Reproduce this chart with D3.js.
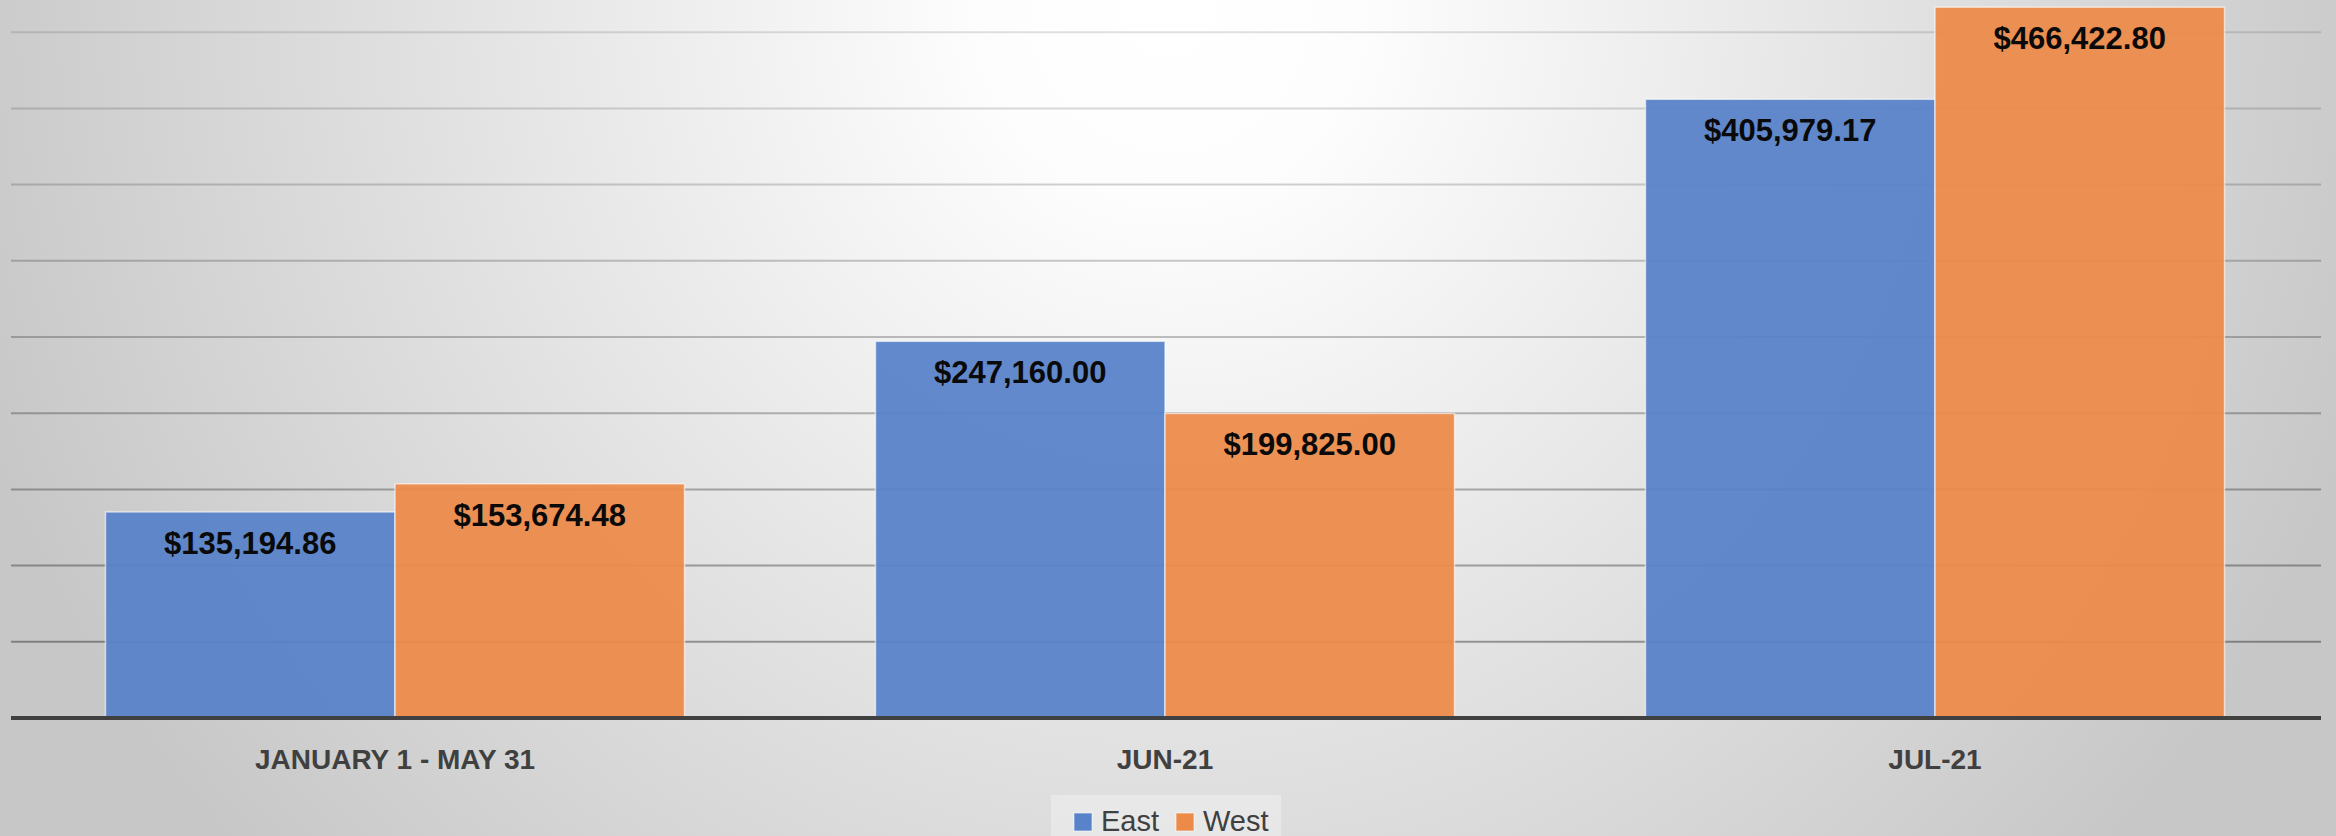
<!DOCTYPE html>
<html>
<head>
<meta charset="utf-8">
<script src="https://cdn.jsdelivr.net/npm/d3@7"></script>
<style>
  html, body { margin: 0; padding: 0; overflow: hidden; }
  svg { display: block; }
</style>
</head>
<body>
<div id="chart"></div>
<script>
const categories = ["JANUARY 1 - MAY 31", "JUN-21", "JUL-21"];
const seriesNames = ["East", "West"];
const eastValues = [135194.86, 247160.00, 405979.17];
const westValues = [153674.48, 199825.00, 466422.80];
const gridValues = [50000, 100000, 150000, 200000, 250000, 300000, 350000, 400000, 450000];

const W = 2336, H = 836;
const plot = { left: 10, right: 2320, bottom: 718, top: -44 };
const labelFont = "'Liberation Sans', Arial, sans-serif";
const colors = d3.scaleOrdinal().domain(seriesNames).range(["#5882c9", "#ec8a4a"]);

const data = categories.map((c, i) => ({ cat: c, East: eastValues[i], West: westValues[i] }));

const svg = d3.select("#chart").append("svg")
    .attr("width", W)
    .attr("height", H);

// background
const defs = svg.append("defs");
const grad = defs.append("radialGradient")
    .attr("id", "bg")
    .attr("gradientUnits", "userSpaceOnUse")
    .attr("cx", 1170).attr("cy", 10).attr("r", 1260);
grad.append("stop").attr("offset", "0").attr("stop-color", "#ffffff");
grad.append("stop").attr("offset", "0.15").attr("stop-color", "#fdfdfd");
grad.append("stop").attr("offset", "1").attr("stop-color", "#c7c7c7");

svg.append("rect")
    .attr("width", W).attr("height", H)
    .attr("fill", "url(#bg)");

const x = d3.scaleBand()
    .domain(categories)
    .range([plot.left, plot.right])
    .paddingInner(0.248)
    .paddingOuter(0.124);

const x1 = d3.scaleBand()
    .domain(seriesNames)
    .range([0, x.bandwidth()]);

const y = d3.scaleLinear()
    .domain([0, 500000])
    .range([plot.bottom, plot.top]);

// lower gridlines look darker in the original
const gridOpacity = d3.scaleLinear().domain([0, 450000]).range([0.38, 0.12]);

// gridlines
svg.append("g")
    .selectAll("line")
    .data(gridValues)
    .enter()
    .append("line")
    .attr("x1", plot.left + 1)
    .attr("x2", plot.right + 1)
    .attr("y1", d => y(d))
    .attr("y2", d => y(d))
    .attr("stroke", "#000")
    .attr("stroke-opacity", d => gridOpacity(d))
    .attr("stroke-width", 2);

// bars
const groups = svg.append("g")
    .selectAll("g")
    .data(data)
    .enter()
    .append("g")
    .attr("transform", d => `translate(${x(d.cat)},0)`);

groups.selectAll("rect")
    .data(d => seriesNames.map(k => ({ key: k, value: d[k] })))
    .enter()
    .append("rect")
    .attr("x", d => x1(d.key))
    .attr("y", d => y(d.value))
    .attr("width", x1.bandwidth())
    .attr("height", d => y(0) - y(d.value))
    .attr("fill", d => colors(d.key))
    .attr("fill-opacity", 0.94)
    .attr("stroke", "rgba(255,255,255,0.6)")
    .attr("stroke-width", 1.5);

groups.selectAll("text")
    .data(d => seriesNames.map(k => ({ key: k, value: d[k] })))
    .enter()
    .append("text")
    .attr("x", d => x1(d.key) + x1.bandwidth() / 2)
    .attr("y", d => y(d.value) + 42)
    .attr("text-anchor", "middle")
    .style("font-family", labelFont)
    .style("font-weight", "bold")
    .style("font-size", "31px")
    .attr("fill", "#0a0a0a")
    .text(d => "$" + d3.format(",.2f")(d.value));

// baseline axis
svg.append("line")
    .attr("x1", plot.left + 1)
    .attr("x2", plot.right + 1)
    .attr("y1", y(0))
    .attr("y2", y(0))
    .attr("stroke", "#404040")
    .attr("stroke-width", 4);

// category labels
svg.append("g")
    .selectAll("text")
    .data(categories)
    .enter()
    .append("text")
    .attr("x", d => x(d) + x.bandwidth() / 2)
    .attr("y", 769)
    .attr("text-anchor", "middle")
    .style("font-family", labelFont)
    .style("font-weight", "bold")
    .style("font-size", "28px")
    .attr("fill", "#404040")
    .text(d => d);

// legend
const legend = svg.append("g").attr("transform", "translate(1051,795)");
legend.append("rect")
    .attr("width", 230).attr("height", 50)
    .attr("fill", "#ffffff")
    .attr("fill-opacity", 0.3);

const legendX = [23, 125];
const items = legend.selectAll(".legend-item")
    .data(seriesNames)
    .enter()
    .append("g")
    .attr("class", "legend-item")
    .attr("transform", (d, i) => `translate(${legendX[i]},18)`);

items.append("rect")
    .attr("width", 18)
    .attr("height", 18)
    .attr("fill", d => colors(d))
    .attr("stroke", "rgba(255,255,255,0.6)")
    .attr("stroke-width", 1);

items.append("text")
    .attr("x", 27)
    .attr("y", 18)
    .style("font-family", labelFont)
    .style("font-size", "29px")
    .attr("fill", "#404040")
    .text(d => d);
</script>
</body>
</html>
